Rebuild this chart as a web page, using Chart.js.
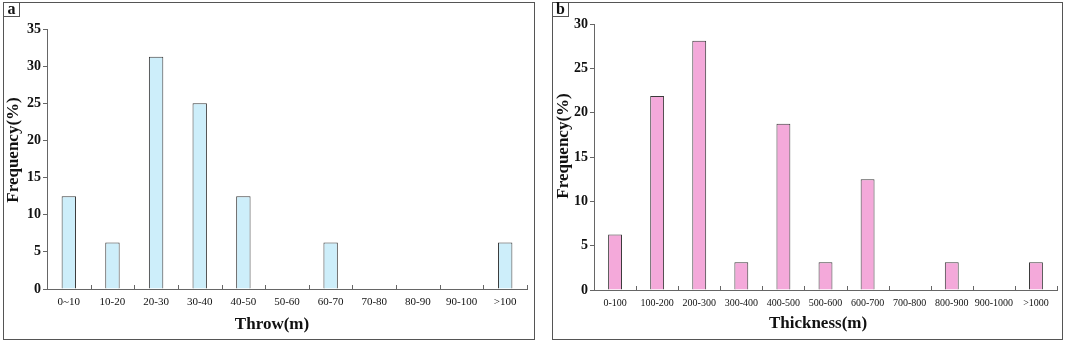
<!DOCTYPE html>
<html lang="en">
<head>
<meta charset="utf-8">
<title>Throw and thickness frequency</title>
<script src="https://cdn.jsdelivr.net/npm/chart.js@4.4.1/dist/chart.umd.min.js"></script>
<style>
  body { margin: 0; width: 1065px; height: 344px; background: #fff; position: relative; overflow: hidden;
         font-family: "Liberation Serif", "Times New Roman", serif; }
  .panel { position: absolute; box-sizing: border-box; border: 1px solid #555; top: 2px; height: 338px; }
  .panel canvas { position: absolute; left: 0; top: 0; }
  .tag { position: absolute; left: -1px; top: -1px; width: 15px; height: 13px; border: 1px solid #555;
         background: #fff; font-weight: bold; font-size: 16px; line-height: 12px; text-align: center; color: #111; }
</style>
</head>
<body>

<div class="panel" id="panelA" style="left:3px; width:532px;">
  <canvas id="chartA" width="530" height="336"></canvas>
  <div class="tag">a</div>
</div>

<div class="panel" id="panelB" style="left:552px; width:511px;">
  <canvas id="chartB" width="509" height="336"></canvas>
  <div class="tag">b</div>
</div>

<script>
// panel a: fault throw
const throwLabels = ['0~10', '10-20', '20-30', '30-40', '40-50', '50-60', '60-70', '70-80', '80-90', '90-100', '>100'];
const throwFreq = [12.5, 6.25, 31.25, 25, 12.5, 0, 6.25, 0, 0, 0, 6.25];
const throwTicksMax = 35;

// panel b: thickness
const thickLabels = ['0-100', '100-200', '200-300', '300-400', '400-500', '500-600', '600-700', '700-800', '800-900', '900-1000', '>1000'];
const thickFreq = [6.25, 21.875, 28.125, 3.125, 18.75, 3.125, 12.5, 0, 3.125, 0, 3.125];
const thickTicksMax = 30;

const serif = '"Liberation Serif", "Times New Roman", serif';
const axisColor = '#666';

// small tick marks pointing up from the x axis, at the category boundaries
const innerTicks = {
    id: 'innerTicks',
    afterDatasetsDraw(chart) {
        const x = chart.scales.x;
        const ctx = chart.ctx;
        const n = chart.data.labels.length;
        const half = (x.getPixelForValue(1) - x.getPixelForValue(0)) / 2;
        ctx.save();
        ctx.strokeStyle = axisColor;
        ctx.lineWidth = 1;
        ctx.beginPath();
        for (let i = 0; i < n; i++) {
            const px = Math.round(x.getPixelForValue(i) + half) + 0.5;
            ctx.moveTo(px, x.top);
            ctx.lineTo(px, x.top - 4);
        }
        ctx.stroke();
        ctx.restore();
    }
};

// axis titles (the originals sit a little off the plot centre)
const axisTitles = {
    id: 'axisTitles',
    afterDraw(chart, args, o) {
        const ctx = chart.ctx;
        ctx.save();
        ctx.fillStyle = '#111';
        ctx.textAlign = 'center';
        ctx.textBaseline = 'middle';
        ctx.font = 'bold 17px ' + serif;
        ctx.fillText(o.xText, o.xPos[0], o.xPos[1]);
        ctx.translate(o.yPos[0], o.yPos[1]);
        ctx.rotate(-Math.PI / 2);
        ctx.font = 'bold 17px ' + serif;
        ctx.fillText(o.yText, 0, 0);
        ctx.restore();
    }
};

function makeChart(id, labels, values, opt) {
    return new Chart(document.getElementById(id), {
        type: 'bar',
        data: {
            labels: labels,
            datasets: [{
                data: values,
                backgroundColor: opt.fill,
                borderColor: '#3a3a3a',
                borderWidth: 1,
                categoryPercentage: 1,
                barPercentage: 0.33
            }]
        },
        options: {
            responsive: false,
            animation: false,
            layout: { padding: { top: opt.top, right: opt.right, left: 0, bottom: 0 } },
            plugins: {
                legend: { display: false },
                tooltip: { enabled: false },
                axisTitles: { xText: opt.xTitle, xPos: opt.xPos, yText: 'Frequency(%)', yPos: opt.yPos }
            },
            scales: {
                x: {
                    grid: { display: true, drawOnChartArea: false, drawTicks: false },
                    border: { color: axisColor, width: 1 },
                    ticks: {
                        color: '#111', padding: 7, autoSkip: false, maxRotation: 0, minRotation: 0,
                        font: { family: serif, size: opt.xFont }
                    },
                    afterFit(s) { s.height = opt.xHeight; }
                },
                y: {
                    min: 0, max: opt.max,
                    grid: { drawOnChartArea: false, drawTicks: true, tickLength: 4, color: axisColor },
                    border: { color: axisColor, width: 1 },
                    ticks: {
                        stepSize: 5, color: '#111', padding: 2,
                        font: { family: serif, size: 14, weight: 'bold' }
                    },
                    afterFit(s) { s.width = opt.yWidth; }
                }
            }
        },
        plugins: [innerTicks, axisTitles]
    });
}

makeChart('chartA', throwLabels, throwFreq, {
    fill: '#cdeefa', max: throwTicksMax, xTitle: 'Throw(m)', xFont: 11,
    top: 26, right: 7, yWidth: 43, xHeight: 50,
    xPos: [268, 322], yPos: [10, 147]
});

makeChart('chartB', thickLabels, thickFreq, {
    fill: '#f4a9da', max: thickTicksMax, xTitle: 'Thickness(m)', xFont: 10,
    top: 21, right: 5, yWidth: 41, xHeight: 49,
    xPos: [265, 321], yPos: [11, 143]
});
</script>

</body>
</html>
